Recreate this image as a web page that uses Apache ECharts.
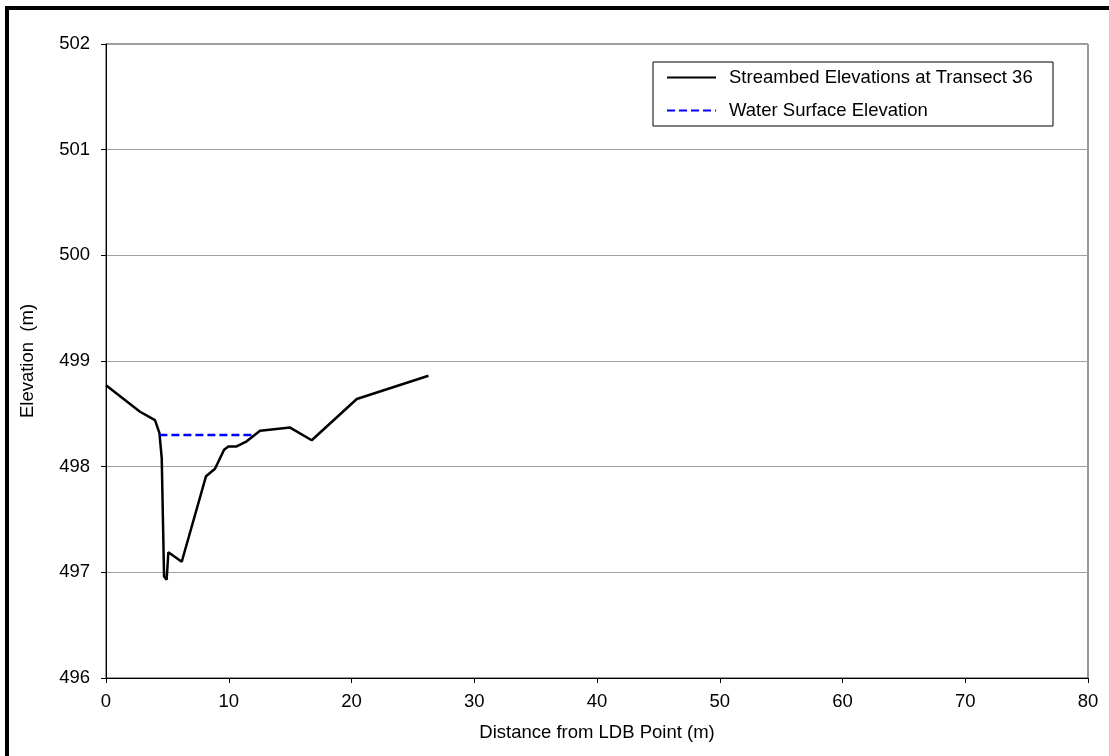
<!DOCTYPE html>
<html>
<head>
<meta charset="utf-8">
<script src="https://cdn.jsdelivr.net/npm/echarts@6/dist/echarts.min.js"></script>
<style>
  html, body { margin: 0; padding: 0; background: #fff; }
  #chart { width: 1109px; height: 756px; }
</style>
</head>
<body>
<div id="chart"></div>
<script>
// streambed survey, transect 36
const distance = [0, 2.77, 3.99, 4.35, 4.54, 4.73, 4.94, 5.08, 6.17, 8.15, 8.88, 9.62, 9.97, 10.6, 11.46, 12.55, 15.0, 16.76, 20.43, 26.27];
const streambed = [498.77, 498.52, 498.44, 498.32, 498.08, 496.96, 496.93, 497.19, 497.10, 497.91, 497.98, 498.16, 498.19, 498.19, 498.24, 498.34, 498.37, 498.25, 498.64, 498.86];
// water surface
const waterX = [4.35, 12.14];
const waterElev = [498.30, 498.30];

const xTicks = { min: 0, max: 80, interval: 10 };
const yTicks = { min: 496, max: 502, interval: 1 };

const font = "Liberation Sans, Arial, sans-serif";
const fs = 18.5;

const myChart = echarts.init(document.getElementById("chart"));

const zip = (xs, ys) => xs.map((x, i) => [x, ys[i]]);

myChart.setOption({
  backgroundColor: "#fff",
  animation: false,
  textStyle: { fontFamily: font, color: "#000" },
  grid: {
    left: 106,
    top: 44,
    right: 21,
    bottom: 78,
    show: true,
    borderColor: "#333",
    borderWidth: 1,
  },
  graphic: [
    {
      type: "rect",
      z: -10,
      shape: { x: 7, y: 8, width: 1300, height: 1000 },
      style: { fill: "none", stroke: "#000", lineWidth: 4 },
    },
    {
      // legend box
      type: "rect",
      z: 1,
      shape: { x: 653, y: 62, width: 400, height: 64 },
      style: { fill: "#fff", stroke: "#000", lineWidth: 1 },
    },
  ],
  legend: {
    orient: "vertical",
    left: 666,
    top: 68,
    padding: 0,
    itemWidth: 49,
    itemHeight: 14,
    itemGap: 14,
    z: 5,
    itemStyle: { opacity: 0 },
    textStyle: { fontSize: fs, fontFamily: font, color: "#000", padding: [0, 0, 0, 8] },
    data: ["Streambed Elevations at Transect 36", "Water Surface Elevation"],
  },
  xAxis: {
    type: "value",
    min: xTicks.min,
    max: xTicks.max,
    interval: xTicks.interval,
    name: "Distance from LDB Point (m)",
    nameLocation: "middle",
    nameGap: 45,
    nameTextStyle: { fontSize: fs, fontFamily: font, color: "#000" },
    axisLine: { show: true, onZero: false, lineStyle: { color: "#000", width: 1 } },
    axisTick: { show: true, inside: false, length: 5, lineStyle: { color: "#000" } },
    axisLabel: { fontSize: fs, color: "#000", margin: 14, fontFamily: font },
    splitLine: { show: false },
  },
  yAxis: {
    type: "value",
    min: yTicks.min,
    max: yTicks.max,
    interval: yTicks.interval,
    name: "Elevation  (m)",
    nameLocation: "middle",
    nameRotate: 90,
    nameGap: 69,
    nameTextStyle: { fontSize: fs, fontFamily: font, color: "#000" },
    axisLine: { show: true, onZero: false, lineStyle: { color: "#000", width: 1 } },
    axisTick: { show: true, inside: false, length: 5, lineStyle: { color: "#000" } },
    axisLabel: { fontSize: fs, color: "#000", margin: 16, fontFamily: font },
    splitLine: { show: true, lineStyle: { color: "#a0a0a0", width: 1 } },
  },
  series: [
    {
      name: "Streambed Elevations at Transect 36",
      type: "line",
      symbol: "none",
      data: zip(distance, streambed),
      lineStyle: { color: "#000", width: 2.5 },
      itemStyle: { color: "#000" },
      z: 3,
    },
    {
      name: "Water Surface Elevation",
      type: "line",
      symbol: "none",
      data: zip(waterX, waterElev),
      lineStyle: { color: "#0000ff", width: 2.5, type: [8, 4] },
      itemStyle: { color: "#0000ff" },
      z: 4,
    },
  ],
});
</script>
</body>
</html>
